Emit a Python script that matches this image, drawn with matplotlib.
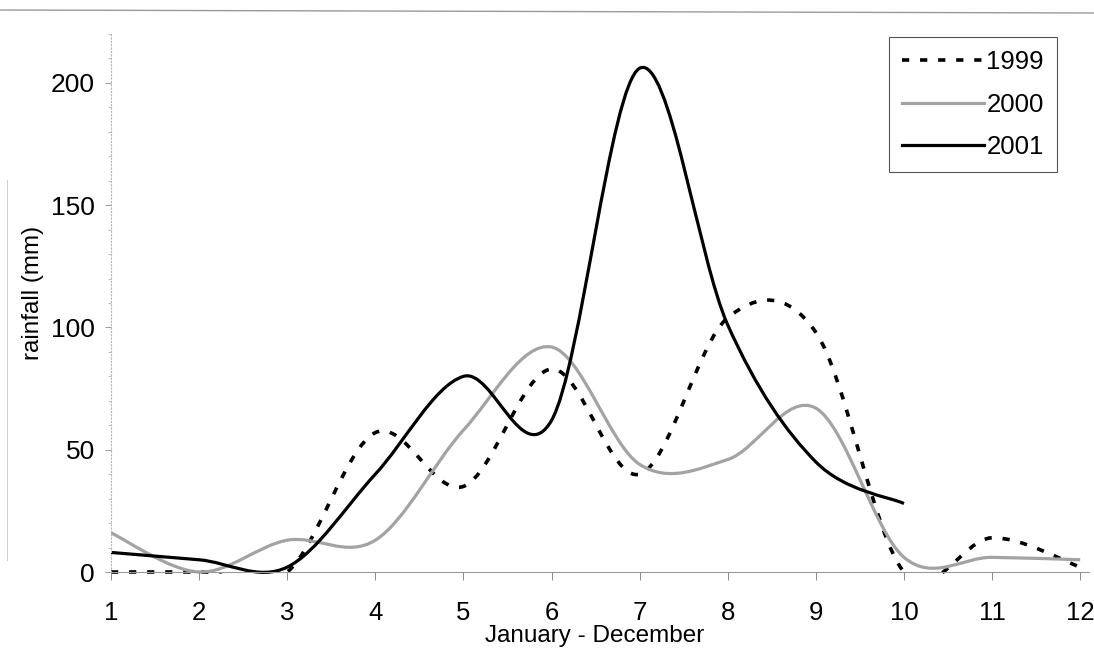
#!/usr/bin/env python3
"""Monthly rainfall for 1999-2001, drawn as smoothed line chart."""

import numpy as np
import matplotlib
matplotlib.use("Agg")
import matplotlib.pyplot as plt
from matplotlib.path import Path
from matplotlib.patches import PathPatch, Rectangle
from matplotlib.lines import Line2D
from matplotlib.ticker import MultipleLocator

plt.rcParams['font.family'] = ['Liberation Sans', 'DejaVu Sans']

# monthly rainfall (mm)
months = list(range(1, 13))
rain_1999 = [0, 0, 0, 57, 35, 83, 40, 104, 98, 0, 14, 2]
rain_2000 = [16, 0, 13, 13, 58, 92, 44, 46, 67, 6, 6, 5]
rain_2001 = [8, 5, 2, 40, 80, 62, 206, 101, 45, 28]   # no data after October
years = ['1999', '2000', '2001']


def smooth_path(xs, ys):
    """Bezier path through the points, spreadsheet-style smoothing."""
    pts = np.column_stack([xs, ys]).astype(float)
    n = len(pts)
    verts = [pts[0]]
    codes = [Path.MOVETO]
    for i in range(n - 1):
        p0 = pts[max(i - 1, 0)]
        p1 = pts[i]
        p2 = pts[i + 1]
        p3 = pts[min(i + 2, n - 1)]
        verts += [p1 + (p2 - p0) / 6, p2 - (p3 - p1) / 6, p2]
        codes += [Path.CURVE4] * 3
    return Path(verts, codes)


fig = plt.figure(figsize=(10.94, 6.58), dpi=100)
ax = fig.add_axes([111 / 1094, 86 / 658, 978 / 1094, 538 / 658])
ax.set_xlim(1, 12.1)
ax.set_ylim(0, 220)

styles = [
    dict(color='black', lw=2.6, dashes=(2, 3)),
    dict(color='#a3a3a3', lw=2.3, dashes=None),
    dict(color='black', lw=2.3, dashes=None),
]
series = [rain_1999, rain_2000, rain_2001]

# let the lines sit on the x axis without being cut in half
clip = Rectangle((1, -1.0), 11.1, 221.0, transform=ax.transData)

handles = []
for vals, st, label in zip(series, styles, years):
    ls = (0, st['dashes']) if st['dashes'] else '-'
    patch = PathPatch(smooth_path(months[:len(vals)], vals), fill=False,
                      edgecolor=st['color'], lw=st['lw'], linestyle=ls,
                      capstyle='butt', joinstyle='round')
    ax.add_patch(patch)
    patch.set_clip_path(clip)
    h = Line2D([], [], color=st['color'], lw=st['lw'], label=label)
    if st['dashes']:
        h.set_dashes(st['dashes'])
    handles.append(h)

# axes
for side in ['top', 'right']:
    ax.spines[side].set_visible(False)
ax.spines['left'].set_color('#b5b5b5')
ax.spines['left'].set_linestyle((0, (1, 2)))
ax.spines['left'].set_linewidth(0.8)
ax.spines['bottom'].set_color('#9a9a9a')
ax.spines['bottom'].set_linewidth(0.8)

ax.set_xticks(months)
ax.set_yticks([0, 50, 100, 150, 200])
ax.yaxis.set_minor_locator(MultipleLocator(10))
ax.tick_params(axis='x', length=6, width=0.7, color='#8a8a8a', pad=15,
               labelsize=18.5)
ax.tick_params(axis='y', which='major', length=4, width=0.7, color='#9a9a9a',
               pad=7.5, labelsize=19)
ax.tick_params(axis='y', which='minor', length=2, width=0.6, color='#b5b5b5')

ax.set_xlabel('January - December', fontsize=17.5)
ax.xaxis.set_label_coords(0.494, -0.098)
ax.set_ylabel('rainfall (mm)', fontsize=17.5)
ax.yaxis.set_label_coords(-0.068, 0.519)

leg = ax.legend(handles=handles, loc='upper right',
                bbox_to_anchor=(0.967, 0.994), borderaxespad=0,
                fontsize=18.5, handlelength=3.2, handletextpad=0.1,
                labelspacing=0.72, borderpad=0.5, fancybox=False,
                framealpha=1, edgecolor='#555555')
leg.get_frame().set_linewidth(0.8)

# page edges left on the sheet
fig.add_artist(Line2D([0, 1], [1 - 10 / 658, 1 - 13 / 658],
                      transform=fig.transFigure, color='#9a9a9a', lw=1.0))
fig.add_artist(Line2D([7 / 1094, 7 / 1094], [1 - 560 / 658, 1 - 180 / 658],
                      transform=fig.transFigure, color='#d0d0d0', lw=0.8))

fig.savefig('out.png', dpi=100)
